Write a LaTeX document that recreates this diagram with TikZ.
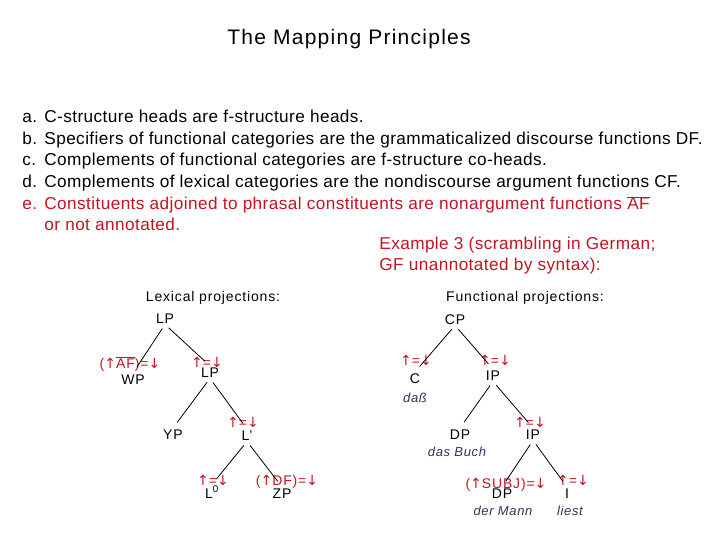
\documentclass[tikz,border=0pt]{standalone}
\usepackage{fontspec}
\setmainfont{Liberation Sans}
\newfontfamily\arrowfont{DejaVu Sans}
\newcommand{\uparr}{{\arrowfont\addfontfeature{LetterSpace=0}↑}}
\newcommand{\dnarr}{{\arrowfont\addfontfeature{LetterSpace=0}↓}}
\definecolor{rulered}{RGB}{195,20,35}
\definecolor{wordblue}{RGB}{50,50,90}

\begin{document}
\begin{tikzpicture}[
       x=1pt,y=-1pt,
       line width=0.8pt,
       txt/.style={anchor=base west,inner sep=0pt,font=\fontsize{17.2}{19}\selectfont\addfontfeature{LetterSpace=2.4}},
       cat/.style={anchor=base,inner sep=1pt,font=\fontsize{14}{16}\selectfont\addfontfeature{LetterSpace=6}},
       ann/.style={cat,text=rulered},
       word/.style={anchor=base,inner sep=1pt,text=wordblue,font=\fontsize{13}{15}\selectfont\itshape\addfontfeature{LetterSpace=5}},
       edge/.style={shorten <=5pt,shorten >=7pt}
     ]
\useasboundingbox (0,0) rectangle (720,540);
\node[anchor=base,font=\fontsize{21}{24}\selectfont\addfontfeature{LetterSpace=6}] (title) at (349,45) {The Mapping Principles};

\node[txt] (la) at (22,123) {a.};
\node[txt] (lb) at (22,145) {b.};
\node[txt] (lc) at (22,166) {c.};
\node[txt] (ld) at (22,188) {d.};
\node[txt,text=rulered] (le) at (22,210) {e.};
\node[txt] (pa) at (44,123) {C-structure heads are f-structure heads.};
\node[txt] (pb) at (44,145) {Specifiers of functional categories are the grammaticalized discourse functions DF.};
\node[txt] (pc) at (44,166) {Complements of functional categories are f-structure co-heads.};
\node[txt] (pd) at (44,188) {Complements of lexical categories are the nondiscourse argument functions CF.};
\node[txt,text=rulered] (pe) at (44,210) {Constituents adjoined to phrasal constituents are nonargument functions $\overline{\mbox{AF}}$};
\node[txt,text=rulered] (pe2) at (44,230) {or not annotated.};
\node[txt,text=rulered] (ex1) at (379,249) {Example 3 (scrambling in German;};
\node[txt,text=rulered] (ex2) at (379,270) {GF unannotated by syntax):};

% lexical projections
\node[cat] (lexhead) at (213,301) {Lexical projections:};
\node[cat] (lp) at (165,323) {LP};
\node[ann] (af) at (130,368) {(\uparr$\overline{\mbox{AF}}$)=\dnarr};
\node[cat] (wp) at (133,384) {WP};
\node[ann] (up1) at (207,367) {\uparr=\dnarr};
\node[cat] (lpb) at (210,377) {LP};
\node[cat] (yp) at (173,439) {YP};
\node[ann] (up2) at (243,427) {\uparr=\dnarr};
\node[cat] (lbar) at (247,440) {L'};
\node[ann] (up3) at (213,485) {\uparr=\dnarr};
\node[cat] (l0) at (212,498) {L\textsuperscript{0}};
\node[ann] (df) at (287,485) {(\uparr DF)=\dnarr};
\node[cat] (zp) at (282,498) {ZP};

\draw[edge] (lp.south)--(wp.north);
\draw[edge] (lp.south)--(lpb.north);
\draw[edge] (lpb.south)--(yp.north);
\draw[edge] (lpb.south)--(lbar.north);
\draw[edge] (lbar.south)--(l0.north);
\draw[edge] (lbar.south)--(zp.north);

% functional projections
\node[cat] (funhead) at (525,301) {Functional projections:};
\node[cat] (cp) at (455,324) {CP};
\node[ann] (up4) at (416,365) {\uparr=\dnarr};
\node[cat] (c) at (415,383) {C};
\node[word] (dass) at (415,402) {daß};
\node[ann] (up5) at (495,365) {\uparr=\dnarr};
\node[cat] (ipa) at (493,380) {IP};
\node[cat] (dpa) at (460,439) {DP};
\node[word] (buch) at (457,456) {das Buch};
\node[ann] (up6) at (530,427) {\uparr=\dnarr};
\node[cat] (ipb) at (533,439) {IP};
\node[ann] (subj) at (506,488) {(\uparr SUBJ)=\dnarr};
\node[cat] (dpb) at (502,498) {DP};
\node[word] (mann) at (503,515) {der Mann};
\node[ann] (up7) at (573,485) {\uparr=\dnarr};
\node[cat] (i) at (567,498) {I};
\node[word] (liest) at (570,515) {liest};

\draw[edge] (cp.south)--(c.north);
\draw[edge] (cp.south)--(ipa.north);
\draw[edge] (ipa.south)--(dpa.north);
\draw[edge] (ipa.south)--(ipb.north);
\draw[edge] (ipb.south)--(dpb.north);
\draw[edge] (ipb.south)--(i.north);

\end{tikzpicture}
\end{document}
